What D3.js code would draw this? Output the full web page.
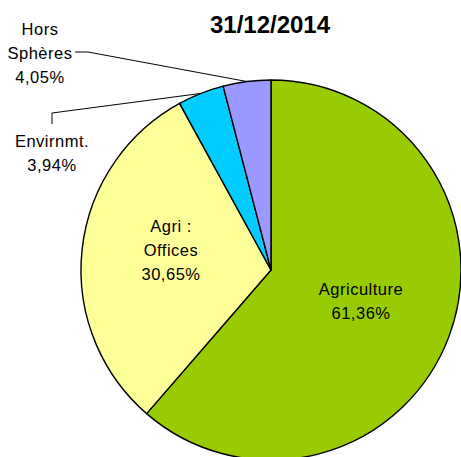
<!DOCTYPE html>
<html lang="fr">
<head>
<meta charset="utf-8">
<title>31/12/2014</title>
<script src="https://cdn.jsdelivr.net/npm/d3@7"></script>
<style>
  body { margin: 0; background: #fff; }
  svg { display: block; }
</style>
</head>
<body>
<script>
// data
var categories = ["Agriculture", "Agri : Offices", "Envirnmt.", "Hors Sphères"];
var values = [61.36, 30.65, 3.94, 4.05];
var valueLabels = ["61,36%", "30,65%", "3,94%", "4,05%"];
var colors = ["#99CC00", "#FFFF99", "#00CCFF", "#9999FF"];

var w = 461, h = 457;
var cx = 271, cy = 270, r = 190;
var font = "Arial, 'Liberation Sans', sans-serif";

var svg = d3.select("body").append("svg")
  .attr("width", w)
  .attr("height", h);

var rows = categories.map(function(c, i) {
  return { name: c, value: values[i], label: valueLabels[i], color: colors[i] };
});

var pie = d3.pie().sort(null).value(function(d) { return d.value; });
var arc = d3.arc().innerRadius(0).outerRadius(r);
var arcs = pie(rows);

var g = svg.append("g").attr("transform", "translate(" + cx + "," + cy + ")");

g.selectAll("path")
  .data(arcs)
  .enter()
  .append("path")
  .attr("d", arc)
  .attr("fill", function(d) { return d.data.color; })
  .attr("stroke", "#000")
  .attr("stroke-width", 1.4)
  .attr("stroke-linejoin", "round");

// title
svg.append("text")
  .text("31/12/2014")
  .attr("x", 270)
  .attr("y", 33)
  .attr("text-anchor", "middle")
  .attr("font-family", font)
  .attr("font-weight", "bold")
  .attr("font-size", "24px");

// label text lines, by slice index (positions only)
var labelPos = [
  { x: 361, y: 295, lines: ["Agriculture"] },
  { x: 171, y: 232, lines: ["Agri :", "Offices"] },
  { x: 52, y: 147, lines: ["Envirnmt."] },
  { x: 40, y: 35, lines: ["Hors", "Sphères"] }
];

arcs.forEach(function(d, i) {
  var p = labelPos[i];
  var lines = p.lines.concat([d.data.label]);
  var t = svg.append("text")
    .attr("text-anchor", "middle")
    .attr("font-family", font)
    .attr("font-size", "16.5px")
    .attr("letter-spacing", "0.5px")
    .attr("fill", "#000");
  lines.forEach(function(s, k) {
    t.append("tspan")
      .attr("x", p.x)
      .attr("y", p.y + k * 24)
      .text(s);
  });
});

// leader lines to the outer edge of small slices
function edgePoint(d) {
  var a = (d.startAngle + d.endAngle) / 2;
  return [cx + r * Math.sin(a), cy - r * Math.cos(a)];
}

var pEnv = edgePoint(arcs[2]);
svg.append("polyline")
  .attr("points", [[52, 124], [52, 113], pEnv].map(function(p) { return p.join(","); }).join(" "))
  .attr("fill", "none")
  .attr("stroke", "#000")
  .attr("stroke-width", 1);

var pHors = edgePoint(arcs[3]);
svg.append("polyline")
  .attr("points", [[75, 52], [88, 52], pHors].map(function(p) { return p.join(","); }).join(" "))
  .attr("fill", "none")
  .attr("stroke", "#000")
  .attr("stroke-width", 1);
</script>
</body>
</html>
